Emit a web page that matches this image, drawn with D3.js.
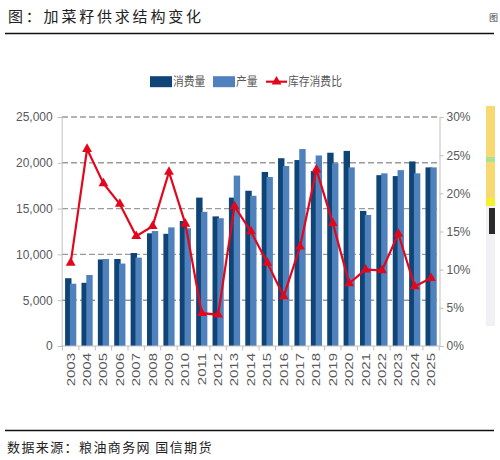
<!DOCTYPE html>
<html>
<head>
<meta charset="utf-8">
<script src="https://cdn.jsdelivr.net/npm/d3@7"></script>
<style>
  body { margin: 0; background: #fff; }
  svg { display: block; }
</style>
</head>
<body>
<div id="chart"></div>
<script>
const years = ["2003","2004","2005","2006","2007","2008","2009","2010","2011","2012","2013","2014",
  "2015","2016","2017","2018","2019","2020","2021","2022","2023","2024","2025"];
// 消费量
const consumption = [7400, 6900, 9450, 9500, 10150, 12300, 12250, 13650, 16200, 14150, 16200, 16950,
  19000, 20500, 20300, 19100, 21100, 21300, 14750, 18650, 18550, 20150, 19500];
// 产量
const production = [6800, 7750, 9500, 9000, 9650, 12550, 12950, 12850, 14650, 13950, 18600, 16400,
  18450, 19650, 21500, 20800, 19950, 19500, 14300, 18850, 19200, 18850, 19500];
// 库存消费比 (%)
const stockRatio = [10.9, 25.8, 21.3, 18.6, 14.4, 15.7, 22.8, 16.0, 4.3, 4.1, 18.3, 15.0,
  10.9, 6.5, 13.0, 23.1, 16.1, 8.2, 10.0, 9.9, 14.7, 7.8, 8.9];
const leftTicks = [0, 5000, 10000, 15000, 20000, 25000];
const rightTicks = [0, 5, 10, 15, 20, 25, 30];
const legendNames = ["消费量", "产量", "库存消费比"];

const width = 500, height = 460;
const darkBlue = "#0f4476", lightBlue = "#4f81bd", red = "#e3071d";
const axisGrey = "#bfbfbf", textGrey = "#595959";
const numFont = "'Liberation Sans', Arial, sans-serif";
const cjkFont = "'Noto Sans CJK SC', sans-serif";

const svg = d3.select("#chart").append("svg")
  .attr("width", width).attr("height", height);

// title and rules
svg.append("text")
  .attr("x", 8).attr("y", 22)
  .attr("font-family", cjkFont).attr("font-size", 15)
  .attr("letter-spacing", 2.8).attr("fill", "#222")
  .text("图：加菜籽供求结构变化");
// edge of the next figure's title, kept small so it fits
svg.append("text")
  .attr("x", 489).attr("y", 21)
  .attr("font-family", cjkFont).attr("font-size", 9).attr("fill", "#444")
  .text("图");
svg.append("line").attr("x1", 5).attr("x2", 494).attr("y1", 33.5).attr("y2", 33.5)
  .attr("stroke", "#111").attr("stroke-width", 1.3);
svg.append("line").attr("x1", 5).attr("x2", 494).attr("y1", 430.5).attr("y2", 430.5)
  .attr("stroke", "#111").attr("stroke-width", 1.3);
svg.append("text")
  .attr("x", 7).attr("y", 452)
  .attr("font-family", cjkFont).attr("font-size", 13)
  .attr("letter-spacing", 1.4).attr("fill", "#222")
  .text("数据来源：粮油商务网 国信期货");

// cropped neighbour picture on the right edge
svg.append("rect").attr("x", 486).attr("y", 106).attr("width", 9).attr("height", 220).attr("fill", "#f1f0f4");
svg.append("rect").attr("x", 486).attr("y", 106).attr("width", 9).attr("height", 96).attr("fill", "#f8d870");
svg.append("rect").attr("x", 486).attr("y", 157).attr("width", 9).attr("height", 5).attr("fill", "#a6e297");
svg.append("rect").attr("x", 486).attr("y", 198).attr("width", 9).attr("height", 8).attr("fill", "#f4f030");
svg.append("rect").attr("x", 489).attr("y", 208).attr("width", 6).attr("height", 26).attr("fill", "#2a2a2a");

// scales
const x = d3.scaleBand().domain(years).range([62.5, 439.3]);
const y = d3.scaleLinear().domain([0, 25000]).range([346, 117]);
const yr = d3.scaleLinear().domain([0, 30]).range([346, 117]);

// gridlines
svg.append("g").selectAll("line")
  .data(leftTicks.filter(d => d > 0))
  .join("line")
  .attr("x1", 62).attr("x2", 439.5)
  .attr("y1", d => y(d)).attr("y2", d => y(d))
  .attr("stroke", "#9a9a9a").attr("stroke-width", 1.4)
  .attr("stroke-dasharray", "6,3");

// bars
const bw = 6.4;
svg.append("g").selectAll("rect")
  .data(consumption)
  .join("rect")
  .attr("x", (d, i) => x(years[i]) + x.bandwidth() / 2 - 5.6)
  .attr("y", d => y(d))
  .attr("width", bw)
  .attr("height", d => y(0) - y(d))
  .attr("fill", darkBlue);
svg.append("g").selectAll("rect")
  .data(production)
  .join("rect")
  .attr("x", (d, i) => x(years[i]) + x.bandwidth() / 2 - 0.8)
  .attr("y", d => y(d))
  .attr("width", bw)
  .attr("height", d => y(0) - y(d))
  .attr("fill", lightBlue);

// axes
const leftAxis = svg.append("g").attr("transform", "translate(61.7,0)")
  .call(d3.axisLeft(y).tickValues(leftTicks).tickSize(4).tickFormat(d3.format(",")));
const rightAxis = svg.append("g").attr("transform", "translate(439.5,0)")
  .call(d3.axisRight(yr).tickValues(rightTicks).tickSize(4).tickFormat(d => d + "%"));
[leftAxis, rightAxis].forEach(g => {
  g.select(".domain").attr("stroke", axisGrey);
  g.selectAll(".tick line").attr("stroke", axisGrey);
  g.selectAll(".tick text")
    .attr("font-family", numFont).attr("font-size", 12).attr("fill", textGrey);
});
leftAxis.selectAll(".tick text").attr("x", -9);
rightAxis.selectAll(".tick text").attr("x", 7);

// x axis: baseline, boundary ticks, rotated year labels
svg.append("line").attr("x1", 61.7).attr("x2", 439.5)
  .attr("y1", y(0)).attr("y2", y(0)).attr("stroke", axisGrey);
svg.append("g").selectAll("line")
  .data(years.concat(["end"]))
  .join("line")
  .attr("x1", (d, i) => i < years.length ? x(d) : x.range()[1])
  .attr("x2", (d, i) => i < years.length ? x(d) : x.range()[1])
  .attr("y1", y(0)).attr("y2", y(0) + 4.5)
  .attr("stroke", axisGrey);
svg.append("g").selectAll("text")
  .data(years)
  .join("text")
  .attr("transform", d => `translate(${x(d) + x.bandwidth() / 2},353) rotate(-90) scale(1.36,1)`)
  .attr("text-anchor", "end")
  .attr("dy", "0.36em")
  .attr("font-family", numFont).attr("font-size", 11).attr("fill", textGrey)
  .text(d => d);

// ratio line with triangle markers
const linePts = stockRatio.map((v, i) => [x(years[i]) + x.bandwidth() / 2, yr(v)]);
svg.append("path")
  .attr("d", d3.line()(linePts))
  .attr("fill", "none").attr("stroke", red).attr("stroke-width", 2.2);
const tri = d3.symbol().type(d3.symbolTriangle).size(42);
svg.append("g").selectAll("path")
  .data(linePts)
  .join("path")
  .attr("transform", d => `translate(${d[0]},${d[1]})`)
  .attr("d", tri)
  .attr("fill", red);

// legend
const legend = svg.append("g");
const ly = 81.7;
legend.append("rect").attr("x", 150).attr("y", ly - 5.5).attr("width", 22).attr("height", 11).attr("fill", darkBlue);
legend.append("rect").attr("x", 213).attr("y", ly - 5.5).attr("width", 22).attr("height", 11).attr("fill", lightBlue);
legend.append("line").attr("x1", 266).attr("x2", 287).attr("y1", ly).attr("y2", ly)
  .attr("stroke", red).attr("stroke-width", 2.2);
legend.append("path").attr("transform", `translate(276.5,${ly})`).attr("d", tri).attr("fill", red);
[[173, legendNames[0]], [236, legendNames[1]], [288, legendNames[2]]].forEach(([lx, name]) => {
  legend.append("text")
    .attr("transform", `translate(${lx},${ly}) scale(0.9,1)`)
    .attr("dy", "0.36em")
    .attr("font-family", cjkFont).attr("font-size", 12).attr("fill", textGrey)
    .text(name);
});
</script>
</body>
</html>
